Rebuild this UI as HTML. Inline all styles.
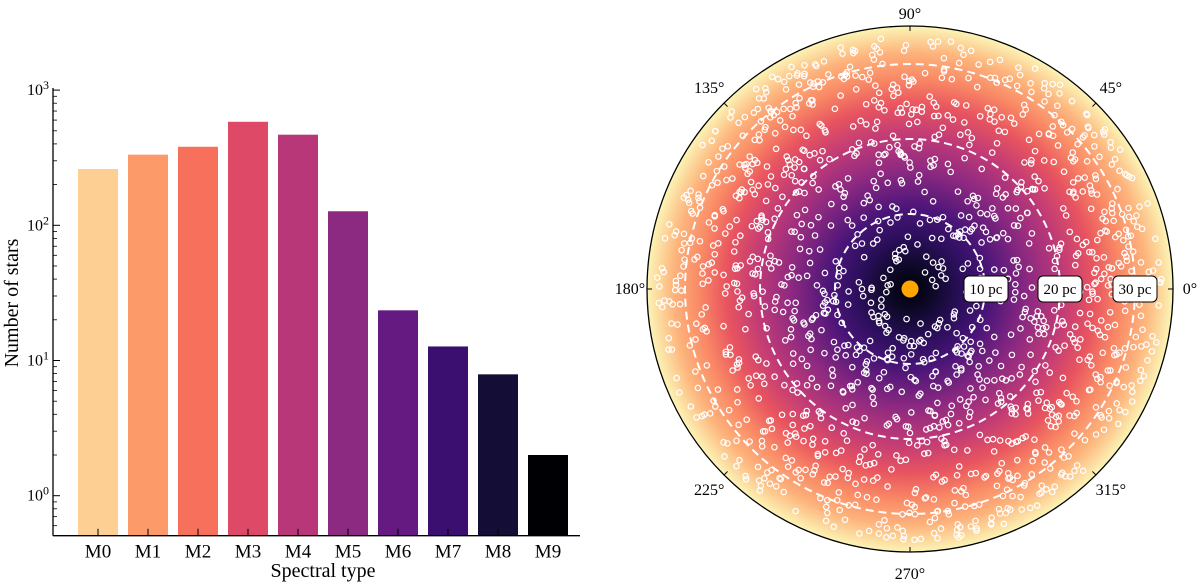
<!DOCTYPE html>
<html><head><meta charset="utf-8"><style>
html,body{margin:0;padding:0;background:#fff;}
svg{display:block;font-family:"Liberation Serif",serif;}
</style></head><body>
<svg id="fig" width="1200" height="582" viewBox="0 0 1200 582">
<defs>
<radialGradient id="magma" cx="910" cy="289" r="263" gradientUnits="userSpaceOnUse">
<stop offset="0" stop-color="#000004"/>
<stop offset="0.08" stop-color="#0c0826"/>
<stop offset="0.2" stop-color="#2c0f5c"/>
<stop offset="0.3" stop-color="#481478"/>
<stop offset="0.45" stop-color="#8c2981"/>
<stop offset="0.58" stop-color="#bf3a77"/>
<stop offset="0.7" stop-color="#e8545f"/>
<stop offset="0.8" stop-color="#f98865"/>
<stop offset="0.9" stop-color="#fdb47c"/>
<stop offset="1" stop-color="#fcf4b6"/>
</radialGradient>
</defs>
<g id="bars"></g>
<g id="polar"></g>
</svg>
<script>
const categories=["M0","M1","M2","M3","M4","M5","M6","M7","M8","M9"];
const counts=[261,333,381,583,468,127,23.5,12.7,7.9,2.0];
const barColors=["#fecf92","#fd9a6a","#f6705c","#de4968","#b73779","#8c2981","#641a80","#3b0f70","#140e36","#000004"];
const yTickExps=[0,1,2,3];
const ringsPc=[10,20,30];
const angleLabels=[0,45,90,135,180,225,270,315];

const NS="http://www.w3.org/2000/svg";
function mk(tag,attrs,parent){const e=document.createElementNS(NS,tag);for(const k in attrs)e.setAttribute(k,attrs[k]);parent.appendChild(e);return e;}

// ---- bar chart ----
const B=document.getElementById('bars');
const axL=53,axB=535.7,axR=580,decPx=135.2,y0=495.7;
function yScale(v){return y0-Math.log10(v)*decPx;}
function xScale(i){return 98+i*50;}
categories.forEach((c,i)=>{
  const y=yScale(counts[i]);
  const r=mk('rect',{x:xScale(i)-20,y:y,width:40,height:axB-y,fill:barColors[i]},B);
  
  
  const t=mk('line',{x1:xScale(i),x2:xScale(i),y1:axB,y2:axB-7,stroke:'#000','stroke-width':1},B);
  
  
  const l=mk('text',{x:xScale(i),y:axB+22,'text-anchor':'middle','font-size':19},B);
  l.textContent=c;
  
  
});
mk('line',{x1:axL,x2:axL,y1:88,y2:axB,stroke:'#000','stroke-width':1.3},B);
mk('line',{x1:axL,x2:axR,y1:axB,y2:axB,stroke:'#000','stroke-width':1.3},B);
yTickExps.forEach(e=>{
  const y=yScale(Math.pow(10,e));
  mk('line',{x1:axL,x2:axL+7,y1:y,y2:y,stroke:'#000','stroke-width':1},B);
  const t=mk('text',{x:axL-4,y:y+5,'text-anchor':'end','font-size':16},B);
  t.innerHTML='10<tspan dy="-6" font-size="12">'+e+'</tspan>';
  
  
});
for(let e=-1;e<3;e++){for(let m=2;m<10;m++){const v=m*Math.pow(10,e);const y=yScale(v);if(y<axB&&y>88)mk('line',{x1:axL,x2:axL+4,y1:y,y2:y,stroke:'#000','stroke-width':0.8},B);}}
let yl=mk('text',{x:0,y:0,'text-anchor':'middle','font-size':20,transform:'translate(18,303) rotate(-90)'},B);
yl.textContent='Number of stars';


let xl=mk('text',{x:323,y:577,'text-anchor':'middle','font-size':20},B);
xl.textContent='Spectral type';



// ---- polar chart ----
const P=document.getElementById('polar');
const cx=910,cy=289,R=263,pxPerPc=7.5;
mk('circle',{cx:cx,cy:cy,r:R,fill:'url(#magma)'},P);
let seed=12345;function rnd(){seed=(seed*1103515245+12345)%2147483648;return seed/2147483648;}
const starR=[],starTh=[];
for(let i=0;i<1400;i++){const u=rnd();starR.push(Math.sqrt(0.006+0.994*u)*33.8);starTh.push(rnd()*360);}
const sg=mk('g',{fill:'none',stroke:'#fff','stroke-width':1.2},P);


for(let i=0;i<starR.length;i++){const a=starTh[i]*Math.PI/180;const r=starR[i]*pxPerPc;mk('circle',{cx:cx+r*Math.cos(a),cy:cy-r*Math.sin(a),r:2.7},sg);}
ringsPc.forEach(pc=>{
  const c=mk('circle',{cx:cx,cy:cy,r:pc*pxPerPc,fill:'none',stroke:'#fff','stroke-width':2,'stroke-dasharray':'8 5'},P);
  
  
});
const labelX=[986,1060,1135];
ringsPc.forEach((pc,i)=>{
  const g=mk('g',{},P);
  
  
  mk('rect',{x:labelX[i]-22,y:276,width:44,height:26,rx:5,fill:'#fff',stroke:'#000','stroke-width':1},g);
  const t=mk('text',{x:labelX[i],y:294,'text-anchor':'middle','font-size':15},g);
  t.textContent=pc+' pc';
});
const sun=mk('circle',{cx:cx,cy:cy,r:8.5,fill:'#ffa500'},P);


mk('circle',{cx:cx,cy:cy,r:R,fill:'none',stroke:'#000','stroke-width':1.3},P);
angleLabels.forEach(d=>{
  const a=d*Math.PI/180;
  mk('line',{x1:cx+R*Math.cos(a),y1:cy-R*Math.sin(a),x2:cx+(R-5)*Math.cos(a),y2:cy-(R-5)*Math.sin(a),stroke:'#000','stroke-width':1},P);
  let lr=d%180===0?280:284;
  let tx=cx+lr*Math.cos(a),ty=cy-lr*Math.sin(a)+5;
  if(d===90)ty=19;
  if(d===270)ty=579;
  const t=mk('text',{x:tx,y:ty,'text-anchor':'middle','font-size':16},P);
  t.textContent=d+'°';
  
  
});
</script>
</body></html>
